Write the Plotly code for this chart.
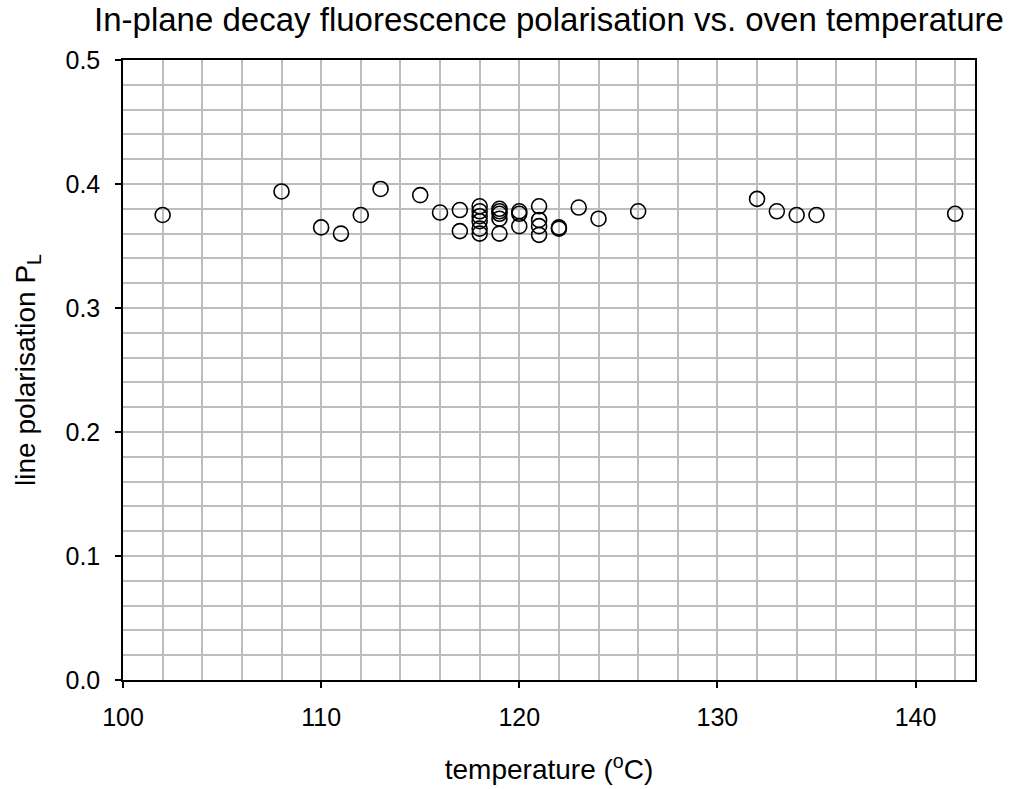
import plotly.graph_objects as go

temperature = [102, 108, 110, 111, 112, 113, 115, 116,
               117, 117,
               118, 118, 118, 118, 118, 118,
               119, 119, 119, 119, 119,
               120, 120, 120,
               121, 121, 121, 121,
               122, 122,
               123, 124, 126, 132, 133, 134, 135, 142]
polarisation = [0.375, 0.394, 0.365, 0.360, 0.375, 0.396, 0.391, 0.377,
                0.379, 0.362,
                0.382, 0.378, 0.374, 0.370, 0.364, 0.360,
                0.380, 0.378, 0.376, 0.372, 0.360,
                0.378, 0.376, 0.366,
                0.382, 0.371, 0.366, 0.359,
                0.365, 0.364,
                0.381, 0.372, 0.378, 0.388, 0.378, 0.375, 0.375, 0.376]

FONT = "Liberation Sans, Arial, sans-serif"
GRID = "#bdbdbd"

fig = go.Figure()
fig.add_trace(go.Scatter(
    x=temperature, y=polarisation, mode="markers",
    marker=dict(symbol="circle-open", size=15, color="black",
                line=dict(width=1.6, color="black")),
    showlegend=False, hoverinfo="x+y"))

fig.update_layout(
    width=1016, height=789,
    margin=dict(l=123, r=41, t=60, b=109),
    paper_bgcolor="white", plot_bgcolor="white",
    font=dict(family=FONT, color="black"),
    title=dict(text="In-plane decay fluorescence polarisation vs. oven temperature",
               font=dict(size=33, family=FONT, color="black"),
               x=0.5, xref="paper", xanchor="center",
               y=1 - 19 / 789, yref="container", yanchor="middle"),
)

fig.update_xaxes(
    range=[100, 143], dtick=10, tick0=100, automargin=False,
    showline=True, mirror=True, linecolor="black", linewidth=1.5,
    ticks="outside", ticklen=6, tickwidth=1.5, tickcolor="black",
    showgrid=True, gridcolor=GRID, gridwidth=1.5,
    minor=dict(dtick=2, tick0=100, showgrid=True, gridcolor=GRID, gridwidth=1.5),
    zeroline=False,
    ticklabelstandoff=8,
    tickfont=dict(size=25, family=FONT, color="black"),
    title=dict(text="temperature (<sup>o</sup>C)", font=dict(size=28, family=FONT, color="black"),
               standoff=30),
)
fig.update_yaxes(
    range=[0, 0.5], dtick=0.1, tick0=0, tickformat=".1f", automargin=False,
    showline=True, mirror=True, linecolor="black", linewidth=1.5,
    ticks="outside", ticklen=6, tickwidth=1.5, tickcolor="black",
    showgrid=True, gridcolor=GRID, gridwidth=1.5,
    minor=dict(dtick=0.02, tick0=0, showgrid=True, gridcolor=GRID, gridwidth=1.5),
    zeroline=False,
    ticklabelstandoff=10,
    tickfont=dict(size=25, family=FONT, color="black"),
    title=dict(text="line polarisation P<sub>L</sub>", font=dict(size=28, family=FONT, color="black"),
               standoff=22),
)

fig.write_html("out.html")
